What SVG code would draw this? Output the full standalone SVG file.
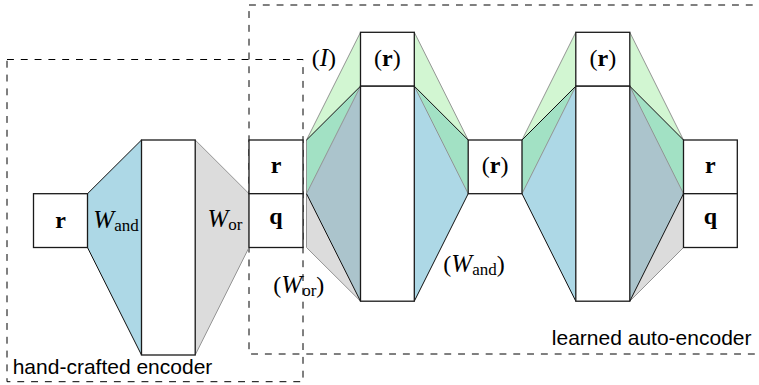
<svg xmlns="http://www.w3.org/2000/svg" width="759" height="385" viewBox="0 0 759 385">
<style>
.frame{fill:none;stroke:#000;stroke-width:1;stroke-dasharray:6.9 6.9}
.box{fill:#fff;stroke:#1a1a1a;stroke-width:1.3}
.lg{fill:#d2f6d2}
.mg{fill:#a2e1c4}
.bl{fill:#add8e6}
.gy{fill:#dcdcdc}
.gb{fill:#abc4cc}
.eg{stroke:#8a8a8a;stroke-width:0.9;fill:none}
.eb{stroke:#111;stroke-width:1;fill:none}
.m{font-family:"Liberation Serif",serif;font-size:24px;fill:#000}
.b{font-weight:bold}
.i{font-style:italic;font-size:25px}
.s{font-size:17px}
.lab{font-family:"Liberation Sans",sans-serif;font-size:21px;fill:#000}
</style>
<g id="frames">
<rect class="frame" x="249" y="5" width="520" height="349"/>
<rect class="frame" x="7" y="59.5" width="296" height="322.2"/>
<text class="lab" x="12.7" y="374.3">hand-crafted encoder</text>
<text class="lab" x="751.5" y="345" text-anchor="end">learned auto-encoder</text>
</g>
<g id="connectors">
<polygon class="bl" points="87.5,193.7 141.5,140 141.5,355 87.5,247.5" stroke="#111" stroke-width="1"/>
<polygon class="gy" points="195.2,140 249,193.7 249,247.5 195.2,355" stroke="#8a8a8a" stroke-width="0.9"/>
<polygon class="lg" points="306.5,140 360.5,32.3 360.5,86.2"/>
<polygon class="mg" points="306.5,140 360.5,86.2 306.5,193.7"/>
<polygon class="gb" points="306.5,193.7 360.5,86.2 360.5,301.2"/>
<polygon class="gy" points="306.5,193.7 360.5,301.2 306.5,247.5"/>
<path class="eg" d="M306.5,140 L360.5,32.3 M306.5,193.7 L360.5,86.2 M306.5,247.5 L360.5,301.2 M306.5,140 L306.5,247.5"/>
<path class="eb" d="M306.5,140 L360.5,86.2 M306.5,193.7 L360.5,301.2"/>
<polygon class="lg" points="414.3,32.3 468.2,140 414.3,86.2"/>
<polygon class="mg" points="414.3,86.2 468.2,140 468.2,193.7"/>
<polygon class="bl" points="414.3,86.2 468.2,193.7 414.3,301.2"/>
<path class="eg" d="M414.3,32.3 L468.2,140 M414.3,86.2 L468.2,193.7"/>
<path class="eb" d="M414.3,86.2 L468.2,140 M414.3,301.2 L468.2,193.7"/>
<polygon class="lg" points="522,140 575.8,32.3 575.8,86.2"/>
<polygon class="mg" points="522,140 575.8,86.2 522,193.7"/>
<polygon class="bl" points="522,193.7 575.8,86.2 575.8,301.2"/>
<path class="eg" d="M522,140 L575.8,32.3 M522,193.7 L575.8,86.2"/>
<path class="eb" d="M522,140 L575.8,86.2 M522,193.7 L575.8,301.2"/>
<polygon class="lg" points="629.8,32.3 683.5,140 629.8,86.2"/>
<polygon class="mg" points="629.8,86.2 683.5,140 683.5,193.7"/>
<polygon class="gb" points="629.8,86.2 683.5,193.7 629.8,301.2"/>
<polygon class="gy" points="629.8,301.2 683.5,193.7 683.5,247.5"/>
<path class="eg" d="M629.8,32.3 L683.5,140 M629.8,86.2 L683.5,193.7 M629.8,301.2 L683.5,247.5"/>
<path class="eb" d="M629.8,86.2 L683.5,140 M629.8,301.2 L683.5,193.7"/>
</g>
<g id="labels">
<text class="m" x="93.3" y="227.5"><tspan class="i">W</tspan><tspan class="s" dy="3">and</tspan></text>
<text class="m" x="207.5" y="227"><tspan class="i">W</tspan><tspan class="s" dy="3">or</tspan></text>
<text class="m" x="311.7" y="66">(<tspan class="i">I</tspan>)</text>
<text class="m" x="273.3" y="293">(<tspan class="i">W</tspan><tspan class="s" dy="3">or</tspan><tspan dy="-3">)</tspan></text>
<text class="m" x="443.3" y="272">(<tspan class="i">W</tspan><tspan class="s" dy="3">and</tspan><tspan dy="-3">)</tspan></text>
</g>
<g id="node-r-in">
<rect class="box" x="33.5" y="193.7" width="54" height="53.8"/>
<text class="m b" x="60.5" y="227.5" text-anchor="middle">r</text>
</g>
<g id="node-hidden-enc">
<rect class="box" x="141.5" y="140" width="53.7" height="215"/>
</g>
<g id="node-rq-code">
<rect class="box" x="249" y="140" width="54" height="53.7"/>
<rect class="box" x="249" y="193.7" width="54" height="53.8"/>
<text class="m b" x="276" y="173" text-anchor="middle">r</text>
<text class="m b" x="276" y="224" text-anchor="middle">q</text>
</g>
<g id="node-hidden-1">
<rect class="box" x="360.5" y="32.3" width="53.8" height="53.9"/>
<rect class="box" x="360.5" y="86.2" width="53.8" height="215"/>
<text class="m" x="387.4" y="66" text-anchor="middle">(<tspan class="b">r</tspan>)</text>
</g>
<g id="node-r-mid">
<rect class="box" x="468.2" y="140" width="53.8" height="53.7"/>
<text class="m" x="495.1" y="173" text-anchor="middle">(<tspan class="b">r</tspan>)</text>
</g>
<g id="node-hidden-2">
<rect class="box" x="575.8" y="32.3" width="54" height="53.9"/>
<rect class="box" x="575.8" y="86.2" width="54" height="215"/>
<text class="m" x="602.8" y="66" text-anchor="middle">(<tspan class="b">r</tspan>)</text>
</g>
<g id="node-rq-out">
<rect class="box" x="683.5" y="140" width="53.8" height="53.7"/>
<rect class="box" x="683.5" y="193.7" width="53.8" height="53.8"/>
<text class="m b" x="710.4" y="173" text-anchor="middle">r</text>
<text class="m b" x="710.4" y="224" text-anchor="middle">q</text>
</g>
</svg>
